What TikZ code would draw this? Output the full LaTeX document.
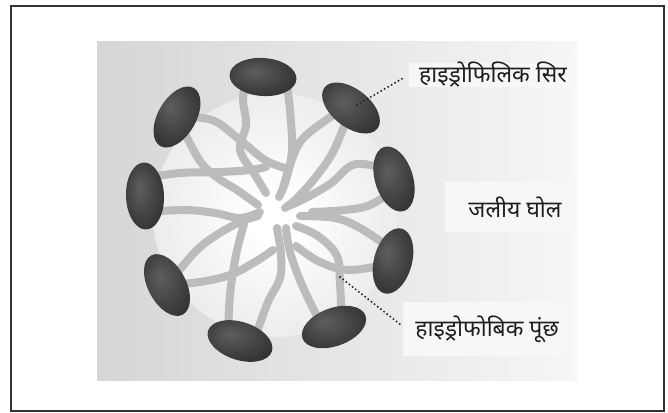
\documentclass[tikz,border=0pt]{standalone}
\usepackage{fontspec}
\newfontfamily\devfont[Script=Devanagari]{Noto Sans}
\usetikzlibrary{shapes.geometric}

\definecolor{framegray}{HTML}{333333}
\definecolor{tailgray}{HTML}{BCBCBC}
\definecolor{labelbg}{HTML}{F7F7F7}
\definecolor{bgleft}{HTML}{D6D6D6}
\definecolor{bgright}{HTML}{F6F6F6}
\definecolor{textgray}{HTML}{1E1E1E}

% soft light sphere of the micelle core
\pgfdeclareradialshading{micellecore}{\pgfpoint{0bp}{0bp}}{%
  color(0bp)=(white); color(5bp)=(white); color(18bp)=(black!5);
  color(34bp)=(black!10); color(50bp)=(black!16)}
% dark polar heads with a faint highlight
\pgfdeclareradialshading{headshade}{\pgfpoint{-7bp}{6bp}}{%
  color(0bp)=(black!63); color(20bp)=(black!75); color(38bp)=(black!84);
  color(50bp)=(black!89)}

\tikzset{
  head/.style={ellipse, shade, shading=headshade, draw=none,
    minimum width=67pt, minimum height=38pt, inner sep=0pt},
  tail/.style={draw=tailgray, line width=8pt, line cap=round, line join=round},
  labelbox/.style={fill=labelbg, draw=none, inner sep=0pt},
  labeltext/.style={font=\devfont\fontsize{23}{27}\selectfont, text=textgray, inner sep=0pt},
  leader/.style={draw=black!85, line width=2.2pt, line cap=round,
    dash pattern=on 0pt off 4pt},
}

\begin{document}
\begin{tikzpicture}[x=1pt, y=-1pt]
  \useasboundingbox (0,0) rectangle (668,412);
  \fill[white] (0,0) rectangle (668,412);

  % outer frame
  \draw[framegray, line width=2pt] (11,6) rectangle (664,411);

  % solution background
  \shade[left color=bgleft, right color=bgright] (97,42) rectangle (577,380);

  % micelle sphere
  \shade[shading=micellecore] (275,215) circle (122);

  % head positions
  \coordinate (c1) at (263,77);
  \coordinate (c2) at (177,117);
  \coordinate (c3) at (145,196);
  \coordinate (c4) at (167,285);
  \coordinate (c5) at (240,341);
  \coordinate (c6) at (334,327);
  \coordinate (c7) at (393,261);
  \coordinate (c8) at (394,179);
  \coordinate (c9) at (351,108);

  % hydrophobic tails
  \draw[tail] (c1) plot[smooth, tension=0.6] coordinates {(245,85) (243,100) (246,125) (240,150) (255,175) (266,193)};
  \draw[tail] (c1) plot[smooth, tension=0.6] coordinates {(287,85) (290,110) (292,150) (286,180) (279,197)};
  \draw[tail] plot[smooth, tension=0.6] coordinates {(177,117) (212,120) (240,140) (265,160) (285,168)};
  \draw[tail] plot[smooth, tension=0.6] coordinates {(177,117) (198,158) (215,176) (237,190) (258,205)};
  \draw[tail] plot[smooth, tension=0.6] coordinates {(145,178) (180,173) (220,172) (250,170) (266,167)};
  \draw[tail] plot[smooth, tension=0.6] coordinates {(145,212) (185,210) (215,213) (240,218) (260,212)};
  \draw[tail] plot[smooth, tension=0.6] coordinates {(167,285) (195,252) (215,236) (240,222) (258,216)};
  \draw[tail] plot[smooth, tension=0.6] coordinates {(167,285) (200,282) (230,275) (255,262) (273,250)};
  \draw[tail] plot[smooth, tension=0.6] coordinates {(228,335) (230,295) (236,255) (244,224)};
  \draw[tail] plot[smooth, tension=0.6] coordinates {(256,335) (268,302) (280,278) (281,255) (277,228)};
  \draw[tail] plot[smooth, tension=0.6] coordinates {(320,322) (302,285) (290,252) (286,228)};
  \draw[tail] plot[smooth, tension=0.6] coordinates {(342,322) (340,285) (337,256) (318,236) (296,226)};
  \draw[tail] plot[smooth, tension=0.6] coordinates {(393,263) (350,270) (320,262) (296,246)};
  \draw[tail] plot[smooth, tension=0.6] coordinates {(393,250) (360,228) (335,218) (300,216)};
  \draw[tail] plot[smooth, tension=0.6] coordinates {(394,172) (356,164) (330,184) (302,200) (288,206)};
  \draw[tail] plot[smooth, tension=0.6] coordinates {(394,190) (370,205) (345,210) (312,212)};
  \draw[tail] plot[smooth, tension=0.6] coordinates {(351,108) (334,150) (315,178) (296,199) (285,208)};
  \draw[tail] plot[smooth, tension=0.6] coordinates {(338,112) (315,128) (300,142) (291,162) (283,188)};

  % hydrophilic heads
  \node[head, rotate=-4]  (h1) at (c1) {};
  \node[head, rotate=60]  (h2) at (c2) {};
  \node[head, rotate=92]  (h3) at (c3) {};
  \node[head, rotate=-62] (h4) at (c4) {};
  \node[head, rotate=-18] (h5) at (c5) {};
  \node[head, rotate=20]  (h6) at (c6) {};
  \node[head, rotate=75]  (h7) at (c7) {};
  \node[head, rotate=107] (h8) at (c8) {};
  \node[head, rotate=-38] (h9) at (c9) {};

  % labels
  \node[labelbox, minimum width=168pt, minimum height=24pt] (b1) at (493,75) {};
  \node[labeltext] (t1) at (493,75) {हाइड्रोफिलिक सिर};
  \node[labelbox, minimum width=124pt, minimum height=50pt] (b2) at (507,207) {};
  \node[labeltext] (t2) at (515,207) {जलीय घोल};
  \node[labelbox, minimum width=160pt, minimum height=54pt] (b3) at (483,329) {};
  \node[labeltext] (t3) at (487,329) {हाइड्रोफोबिक पूंछ};

  % leader lines
  \coordinate (p1) at (357,105);
  \coordinate (q1) at (405,77);
  \coordinate (p3) at (340,277);
  \coordinate (q3) at (401,325);
  \draw[leader] (p1) -- (q1);
  \draw[leader] (p3) -- (q3);
\end{tikzpicture}
\end{document}
